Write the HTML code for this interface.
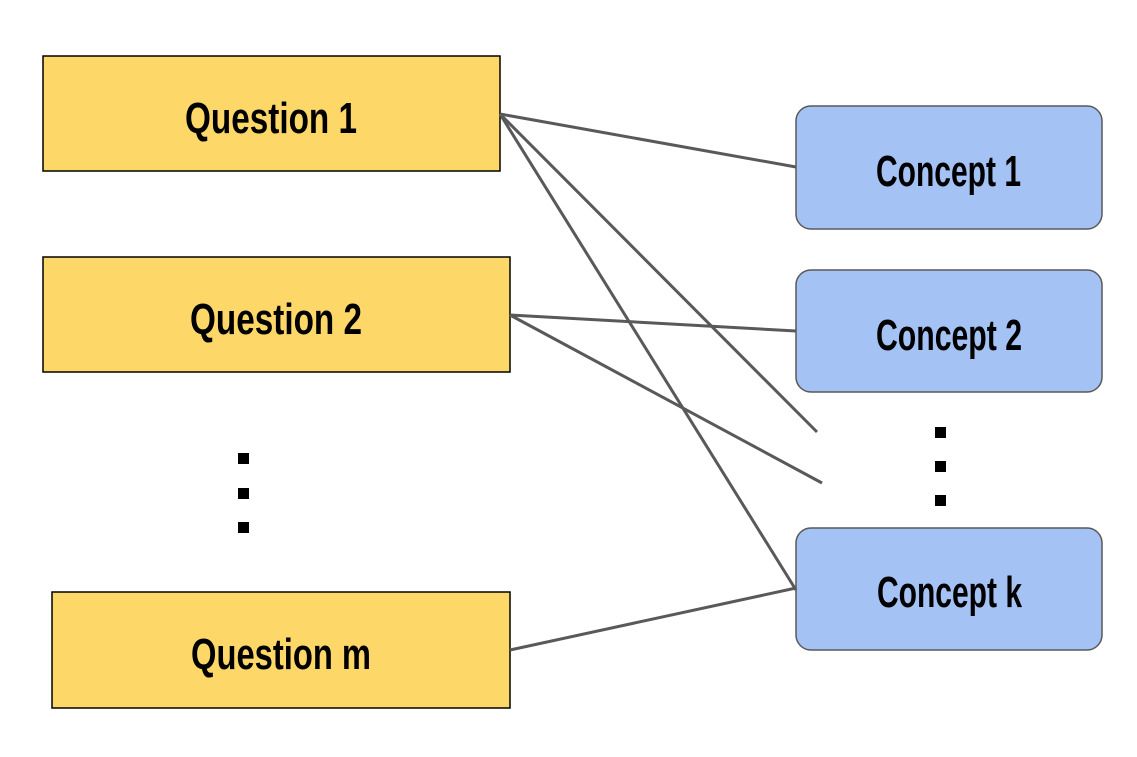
<!DOCTYPE html>
<html><head><meta charset="utf-8"><style>
html,body{margin:0;padding:0;background:#fff;}
svg{display:block;}
text{font-family:"Liberation Sans Narrow","Liberation Sans",sans-serif;font-weight:bold;font-size:44px;fill:#000;}
</style></head><body>
<svg width="1137" height="757" viewBox="0 0 1137 757" xmlns="http://www.w3.org/2000/svg">
<g fill="#fdd868" stroke="#000" stroke-width="1.5">
<rect x="43" y="56" width="457" height="115"/>
<rect x="43" y="257" width="467" height="115"/>
<rect x="52" y="592" width="458" height="116"/>
</g>
<g fill="#a4c2f4" stroke="#595959" stroke-width="1.5">
<rect x="796" y="106" width="306" height="123" rx="15"/>
<rect x="796" y="270" width="306" height="122" rx="15"/>
<rect x="796" y="528" width="306" height="122" rx="15"/>
</g>
<g stroke="#595959" stroke-width="3" fill="none">
<line x1="500" y1="114" x2="796" y2="167"/>
<line x1="500" y1="114" x2="817" y2="432"/>
<line x1="500" y1="114" x2="796" y2="590"/>
<line x1="510" y1="315" x2="796" y2="331"/>
<line x1="510" y1="315" x2="822" y2="483"/>
<line x1="510" y1="650" x2="796" y2="588"/>
</g>
<g fill="#000">
<rect x="238" y="453" width="11" height="11"/>
<rect x="238" y="488" width="11" height="11"/>
<rect x="238" y="522" width="11" height="11"/>
<rect x="935" y="427" width="11" height="11"/>
<rect x="935" y="461" width="11" height="11"/>
<rect x="935" y="495" width="11" height="11"/>
</g>
<text x="185" y="133" textLength="172" lengthAdjust="spacingAndGlyphs">Question 1</text>
<text x="190" y="334" textLength="172" lengthAdjust="spacingAndGlyphs">Question 2</text>
<text x="191" y="669" textLength="180" lengthAdjust="spacingAndGlyphs">Question m</text>
<text x="876" y="186" textLength="145" lengthAdjust="spacingAndGlyphs">Concept 1</text>
<text x="876" y="350" textLength="146" lengthAdjust="spacingAndGlyphs">Concept 2</text>
<text x="877" y="607" textLength="145" lengthAdjust="spacingAndGlyphs">Concept k</text>
</svg>
</body></html>
